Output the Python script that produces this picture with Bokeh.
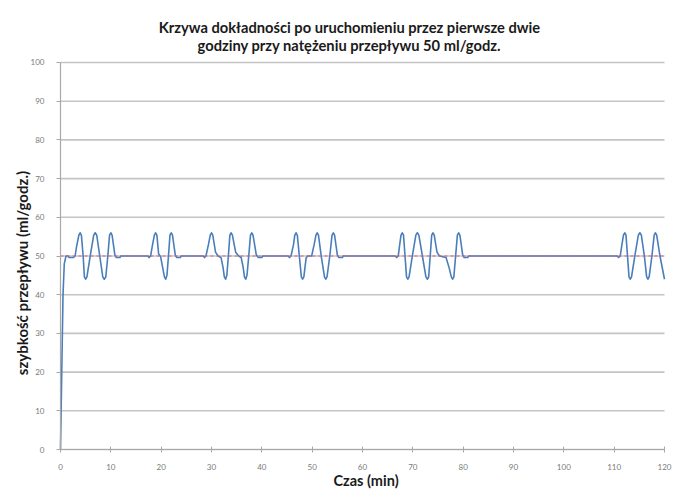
from bokeh.plotting import figure
from bokeh.models import Range1d, FixedTicker, Label, ColumnDataSource
from bokeh.embed import file_html
from bokeh.resources import INLINE

# ---- data (minutes, ml/h) ----
x_ticks = [0, 10, 20, 30, 40, 50, 60, 70, 80, 90, 100, 110, 120]
y_ticks = [0, 10, 20, 30, 40, 50, 60, 70, 80, 90, 100]

setpoint_t = [0, 120]
setpoint_v = [50, 50]

ramp = [(0, 0), (0.25, 20), (0.5, 40), (0.75, 48), (1.1, 50), (1.5, 50),
        (1.7, 49.6), (2.6, 49.6), (2.9, 50)]
burst_1 = [(3.2, 52.5), (3.65, 55.4), (3.9, 56), (4.15, 55.4), (4.5, 50),
           (4.75, 44.6), (5.0, 44), (5.25, 44.6), (5.9, 50), (6.6, 55.4),
           (6.9, 56), (7.2, 55.4), (7.8, 50), (8.4, 44.6), (8.7, 44),
           (9.0, 44.6), (9.4, 50), (9.75, 55.4), (10.0, 56), (10.25, 55.4),
           (10.8, 50.3), (11.1, 49.6), (11.8, 49.6), (12.0, 50)]
burst_2 = [(17.4, 50), (17.6, 49.6), (17.9, 50), (18.3, 53), (18.65, 55.4),
           (18.9, 56), (19.15, 55.4), (19.5, 50.5), (19.9, 49.8), (20.3, 47),
           (20.65, 44.6), (20.9, 44), (21.15, 45), (21.45, 50), (21.75, 55.4),
           (22.0, 56), (22.25, 55.4), (22.8, 50.3), (23.1, 49.6), (23.8, 49.6),
           (24.0, 50)]
burst_3 = [(28.4, 50), (28.6, 49.6), (28.9, 50), (29.4, 53), (29.75, 55.4),
           (30.0, 56), (30.25, 55.4), (30.8, 51), (31.3, 50), (31.9, 49.6),
           (32.3, 47), (32.55, 44.6), (32.8, 44), (33.05, 45), (33.35, 50),
           (33.65, 55.4), (33.9, 56), (34.15, 55.4), (34.8, 51), (35.4, 50),
           (35.9, 49.6), (36.3, 47), (36.55, 44.6), (36.8, 44), (37.05, 45),
           (37.4, 50), (37.75, 55.4), (38.0, 56), (38.25, 55.4), (38.9, 50.3),
           (39.3, 49.6), (40.0, 49.6), (40.2, 50)]
burst_4 = [(45.2, 50), (45.5, 49.6), (45.8, 50), (46.3, 53), (46.55, 55.4),
           (46.8, 56), (47.05, 55.4), (47.45, 50), (47.85, 44.6), (48.1, 44),
           (48.35, 44.6), (48.8, 49.5), (49.1, 50), (49.9, 50), (50.4, 53),
           (50.75, 55.4), (51.0, 56), (51.25, 55.4), (51.8, 50), (52.45, 44.6),
           (52.7, 44), (52.95, 44.6), (53.5, 50), (53.95, 55.4), (54.2, 56),
           (54.45, 55.4), (55.0, 50.3), (55.3, 49.6), (56.0, 49.6), (56.2, 50)]
burst_5 = [(66.5, 50), (66.8, 49.6), (67.1, 50), (67.4, 53), (67.65, 55.4),
           (67.9, 56), (68.15, 55.4), (68.45, 50), (68.75, 44.6), (69.0, 44),
           (69.25, 44.6), (69.9, 50), (70.6, 55.4), (70.9, 56), (71.2, 55.4),
           (71.9, 50), (72.6, 44.6), (72.9, 44), (73.15, 44.6), (73.45, 50),
           (73.75, 55.4), (74.0, 56), (74.25, 55.4), (74.8, 51), (75.3, 50),
           (76.6, 49.6), (77.2, 47), (77.65, 44.6), (77.9, 44), (78.15, 44.6),
           (78.5, 50), (78.85, 55.4), (79.1, 56), (79.35, 55.4), (79.9, 50.3),
           (80.2, 49.6), (80.9, 49.6), (81.1, 50)]
burst_6 = [(110.6, 50), (110.9, 49.6), (111.2, 50), (111.55, 53), (111.85, 55.4),
           (112.1, 56), (112.35, 55.4), (112.65, 50), (112.95, 44.6), (113.2, 44),
           (113.45, 44.6), (114.1, 50), (114.8, 55.4), (115.1, 56), (115.4, 55.4),
           (116.0, 50), (116.45, 44.6), (116.7, 44), (116.95, 44.6), (117.5, 50),
           (117.95, 55.4), (118.2, 56), (118.45, 55.4), (119.1, 50), (120.0, 44)]

title_lines = ["Krzywa dokładności po uruchomieniu przez pierwsze dwie",
               "godziny przy natężeniu przepływu 50 ml/godz."]
x_label = "Czas (min)"
y_label = "szybkość przepływu (ml/godz.)"

segments = [ramp, burst_1, burst_2, burst_3, burst_4, burst_5, burst_6]
points = [pt for seg in segments for pt in seg]
src = ColumnDataSource(dict(t=[p_[0] for p_ in points], v=[p_[1] for p_ in points]))

FONT = "Lato"
GRID = "#c4c4c4"
# extra room around the data area holds tick labels, axis labels and title
X_MIN, X_MAX = -11.92, 122.98
Y_MIN, Y_MAX = -10.85, 116.02

p = figure(width=679, height=491, output_backend="svg", toolbar_location=None,
           x_range=Range1d(X_MIN, X_MAX), y_range=Range1d(Y_MIN, Y_MAX),
           min_border_left=0, min_border_right=0, min_border_top=0,
           min_border_bottom=0)
p.outline_line_color = None
p.background_fill_color = "white"
p.border_fill_color = "white"
p.xgrid.grid_line_color = None
p.ygrid.grid_line_color = None

# horizontal gridlines spanning only the data area
p.segment(x0=[x_ticks[0]] * len(y_ticks), x1=[x_ticks[-1]] * len(y_ticks),
          y0=y_ticks, y1=y_ticks, line_color=GRID, line_width=1.6)

p.xaxis.ticker = FixedTicker(ticks=x_ticks)
p.yaxis.ticker = FixedTicker(ticks=y_ticks)
p.xaxis.bounds = (x_ticks[0], x_ticks[-1])
p.yaxis.bounds = (y_ticks[0], y_ticks[-1])
p.xaxis.fixed_location = 0
p.yaxis.fixed_location = 0
for ax in (p.xaxis[0], p.yaxis[0]):
    ax.axis_line_color = "#a8a8a8"
    ax.axis_line_width = 1.2
    ax.major_tick_line_color = "#a8a8a8"
    ax.minor_tick_line_color = None
    ax.major_label_text_font = FONT
    ax.major_label_text_font_size = "8px"
    ax.major_label_text_color = "#7a7a7a"
    ax.axis_label = None

p.xaxis.major_tick_in = 3
p.xaxis.major_tick_out = 3
p.xaxis.major_label_standoff = 11

p.yaxis.major_tick_in = 0
p.yaxis.major_tick_out = 4
p.yaxis.major_label_standoff = 12

p.line("t", "v", source=src, line_color="#4a7ebb", line_width=1.6,
       line_join="round")
p.line(setpoint_t, setpoint_v, line_color="#e0607a", line_width=1.2,
       line_dash="3 3")

common = dict(text_align="center", text_baseline="middle", text_font=FONT,
              text_font_style="bold", text_color="#1a1a1a")
p.add_layout(Label(x=57.4, y=109.1, text=title_lines[0],
                   text_font_size="14.7px", **common))
p.add_layout(Label(x=57.4, y=104.5, text=title_lines[1],
                   text_font_size="14.7px", **common))
p.add_layout(Label(x=-7.6, y=45.6, text=y_label, angle=1.5708,
                   text_font_size="15px", **common))
p.add_layout(Label(x=60.7, y=-8.0, text=x_label,
                   text_font_size="14.5px", **common))

open("out.html", "w").write(file_html(p, INLINE))
